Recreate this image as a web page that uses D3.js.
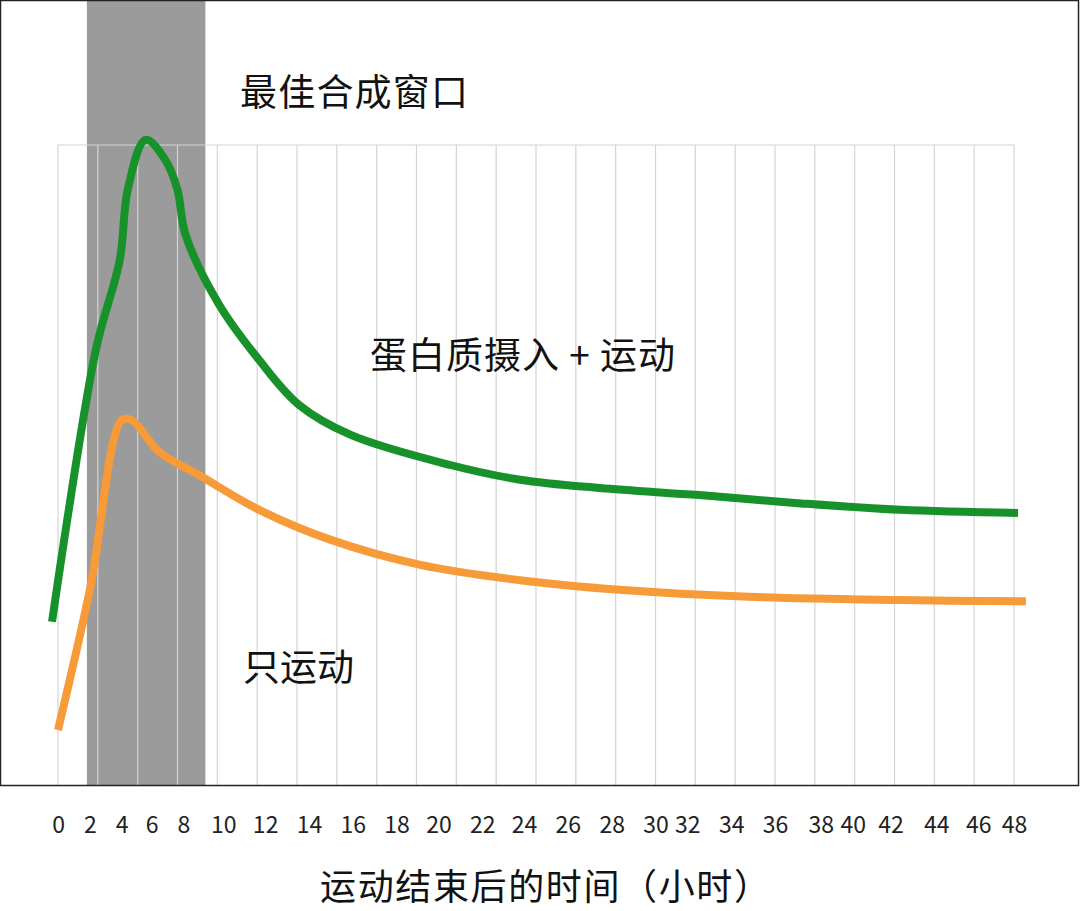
<!DOCTYPE html>
<html><head><meta charset="utf-8">
<script src="https://cdn.jsdelivr.net/npm/d3@7"></script>
<style>body{margin:0;background:#fff}svg{display:block}</style>
</head><body><svg id="c" width="1080" height="911"></svg>
<script>
const gridHours = [0,2,4,6,8,10,12,14,16,18,20,22,24,26,28,30,32,34,36,38,40,42,44,46,48];
const tickLabels = ["0","2","4","6","8","10","12","14","16","18","20","22","24","26","28","30","32","34","36","38","40","42","44","46","48"];
const tickLabelAt = [0,1.6,3.2,4.7,6.3,8.3,10.4,12.6,14.8,17.0,19.1,21.3,23.4,25.6,27.8,30.0,31.6,33.8,36.0,38.3,39.9,41.8,44.1,46.2,48];
const greenHours = [-0.3,1.9,3.1,3.5,4.4,5.4,6.0,6.4,8.1,10.1,12.1,14.7,19.7,23.2,27.2,32.2,37.3,42.3,48.2];
const greenVals  = [25.5,68,82,93,100.8,97.6,93,86,75.0,66.4,59.4,54.7,50,47.7,46.4,45.3,44,43,42.5];
const orangeHours = [0,1.6,3.2,3.7,5.1,7.1,10.1,13.7,18.2,23.2,28.2,34.7,42.3,48.6];
const orangeVals  = [8.6,30.5,57,57,52,48.4,43,38.3,34.4,32,30.5,29.4,28.9,28.7];
const windowRange = [1.45,7.4];
const labels = {window:"最佳合成窗口", protein:"蛋白质摄入 + 运动", only:"只运动", xTitle:"运动结束后的时间（小时）"};

const svg = d3.select("#c");
const font = "'Noto Sans CJK SC','Noto Sans',sans-serif";
const x = d3.scaleLinear().domain([0,48]).range([58,1014]);
const y = d3.scaleLinear().domain([0,100]).range([785,145]);

svg.append("rect").attr("x",x(windowRange[0])).attr("y",0)
  .attr("width",x(windowRange[1])-x(windowRange[0])).attr("height",785).attr("fill","#9b9b9b");

svg.append("g").selectAll("line").data(gridHours).join("line")
  .attr("x1",d=>x(d)).attr("x2",d=>x(d)).attr("y1",y(100)).attr("y2",785)
  .attr("stroke","#d4d4d4").attr("stroke-width",1.2);
svg.append("line").attr("x1",x(0)).attr("x2",x(48)).attr("y1",y(100)).attr("y2",y(100))
  .attr("stroke","#d4d4d4").attr("stroke-width",1.2);

svg.append("rect").attr("x",0.5).attr("y",0.5).attr("width",1078).attr("height",785)
  .attr("fill","none").attr("stroke","#222").attr("stroke-width",1.5);

const line = d3.line().curve(d3.curveCatmullRom.alpha(0.5)).x(d=>x(d[0])).y(d=>y(d[1]));
svg.append("path").datum(orangeHours.map((h,i)=>[h,orangeVals[i]])).attr("d",line)
  .attr("fill","none").attr("stroke","#f79a38").attr("stroke-width",8).attr("stroke-linejoin","round");
svg.append("path").datum(greenHours.map((h,i)=>[h,greenVals[i]])).attr("d",line)
  .attr("fill","none").attr("stroke","#17922b").attr("stroke-width",8).attr("stroke-linejoin","round");

const ax = d3.axisBottom(x).tickValues(tickLabelAt).tickFormat((d,i)=>tickLabels[i]).tickSize(0).tickPadding(0);
const g = svg.append("g").attr("transform","translate(0,817)").call(ax);
g.select(".domain").remove();
g.selectAll("text").attr("font-family",font).attr("font-size",23).attr("fill","#222");

const txt=(s,xx,yy,fs)=>svg.append("text").attr("x",xx).attr("y",yy).attr("font-family",font)
  .attr("font-size",fs).attr("fill","#111").text(s);
txt(labels.window,240,106,37).attr("textLength",228);
txt(labels.protein,370,369,37).attr("textLength",305);
txt(labels.only,243,681,37);
txt(labels.xTitle,545,900,36).attr("text-anchor","middle").attr("textLength",450);
</script></body></html>
